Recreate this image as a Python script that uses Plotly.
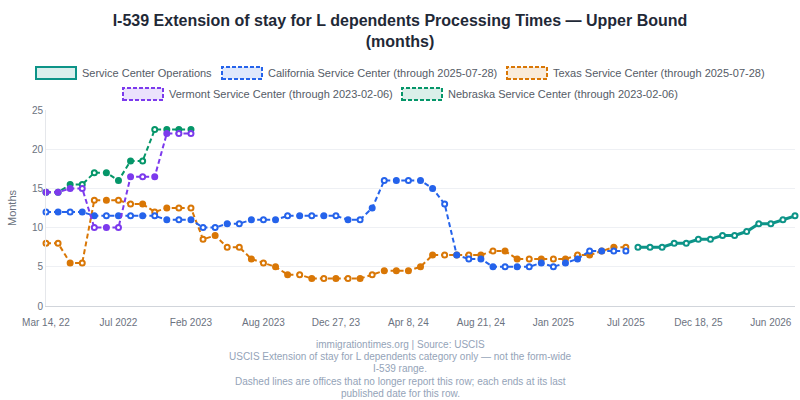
import plotly.graph_objects as go

# report dates (category axis, evenly spaced)
dates = [
    "2022-03-14", "2022-03-29", "2022-04-12", "2022-04-28", "2022-05-16", "2022-06-09",
    "2022-07-11", "2022-08-10", "2022-09-13", "2022-10-12", "2022-11-15", "2022-12-13",
    "2023-02-06", "2023-03-01", "2023-03-29", "2023-04-26", "2023-05-24", "2023-06-28",
    "2023-08-02", "2023-08-30", "2023-09-20", "2023-10-11", "2023-11-01", "2023-11-29",
    "2023-12-27", "2024-01-17", "2024-02-07", "2024-02-28", "2024-03-13", "2024-03-27",
    "2024-04-08", "2024-05-01", "2024-05-29", "2024-06-19", "2024-07-10", "2024-07-31",
    "2024-08-21", "2024-09-18", "2024-10-16", "2024-11-13", "2024-12-04", "2024-12-26",
    "2025-01-22", "2025-02-19", "2025-03-19", "2025-04-16", "2025-05-21", "2025-06-25",
    "2025-07-28", "2025-08-20", "2025-09-10", "2025-10-01", "2025-10-22", "2025-11-19",
    "2025-12-18", "2026-01-14", "2026-02-11", "2026-03-11", "2026-04-08", "2026-05-06",
    "2026-06-03", "2026-07-01", "2026-07-29",
]
tick_labels = ["Mar 14, 22", "Jul 2022", "Feb 2023", "Aug 2023", "Dec 27, 23", "Apr 8, 24",
               "Aug 21, 24", "Jan 2025", "Jul 2025", "Dec 18, 25", "Jun 2026"]

# upper bound, months
california = [12, 12, 12, 12, 11.5, 11.5, 11.5, 11.5, 11.5, 11.5, 11, 11, 11,
              10, 10, 10.5, 10.5, 11, 11, 11, 11.5, 11.5, 11.5, 11.5, 11.5, 11, 11,
              12.5, 16, 16, 16, 16, 15, 13, 6.5, 6, 6, 5, 5, 5, 5, 5.5, 5, 5.5, 6,
              7, 7, 7, 7]
texas = [8, 8, 5.5, 5.5, 13.5, 13.5, 13.5, 13, 13, 12, 12.5, 12.5, 12.5,
         8.5, 9, 7.5, 7.5, 6, 5.5, 5, 4, 4, 3.5, 3.5, 3.5, 3.5, 3.5,
         4, 4.5, 4.5, 4.5, 5, 6.5, 6.5, 6.5, 6.5, 6.5, 7, 7, 6, 6, 6, 6, 6,
         6.5, 6.5, 7, 7.5, 7.5]
vermont = [14.5, 14.5, 15, 15, 10, 10, 10, 16.5, 16.5, 16.5, 22, 22, 22]
nebraska = [14.5, 14.5, 15.5, 15.5, 17, 17, 16, 18.5, 18.5, 22.5, 22.5, 22.5, 22.5]
operations = [7.5, 7.5, 7.5, 8, 8, 8.5, 8.5, 9, 9, 9.5, 10.5, 10.5, 11, 11.5]

# 1 = drawn as an open marker in the source chart
california_open = [1, 0, 1, 0, 0, 1, 0, 1, 0, 1, 0, 1, 0, 1, 1, 0, 1, 0, 1, 0, 1, 0, 1, 0, 1,
                   0, 1, 0, 1, 0, 1, 0, 0, 1, 0, 1, 0, 0, 1, 0, 1, 0, 1, 0, 0, 1, 0, 1, 1]
texas_open = [1, 1, 0, 1, 1, 0, 1, 1, 0, 1, 0, 1, 1, 1, 0, 1, 1, 0, 1, 0, 0, 1, 0, 1, 0,
              1, 0, 1, 0, 0, 0, 0, 0, 1, 0, 1, 0, 1, 0, 0, 1, 0, 1, 0, 1, 0, 0, 0, 1]
vermont_open = [0, 0, 0, 1, 1, 0, 1, 0, 1, 0, 0, 1, 1]
nebraska_open = [0, 0, 0, 1, 1, 0, 0, 0, 1, 1, 0, 0, 0]
operations_open = [1] * len(operations)

FONT = "Liberation Sans, Arial, sans-serif"
DASH = "5px,3px"

# plot box in pixels, used to place the hand-made legend and footer
PL, PR, PT, PB = 46, 795, 110, 306


def px_x(px):
    return (px - PL) / (PR - PL)


def px_y(py):
    return (PB - py) / (PB - PT)


series = [
    # drawing order (bottom first); name, x, y, open flags, colour, dashed
    ("Texas Service Center (through 2025-07-28)", dates[:49], texas, texas_open, "#d97706", True),
    ("California Service Center (through 2025-07-28)", dates[:49], california, california_open, "#2563eb", True),
    ("Nebraska Service Center (through 2023-02-06)", dates[:13], nebraska, nebraska_open, "#059669", True),
    ("Vermont Service Center (through 2023-02-06)", dates[:13], vermont, vermont_open, "#7c3aed", True),
    ("Service Center Operations", dates[49:], operations, operations_open, "#0d9488", False),
]

fig = go.Figure()

for name, xs, ys, opens, color, dashed in series:
    fig.add_trace(go.Scatter(
        x=xs, y=ys, mode="lines+markers", name=name,
        showlegend=False, cliponaxis=False,
        line=dict(color=color, width=2 if dashed else 3, dash=DASH if dashed else "solid"),
        marker=dict(size=5, color=["white" if o else color for o in opens],
                    line=dict(color=color, width=2)),
    ))

# legend drawn by hand: dashed/solid box with a light fill, then the label
legend_items = [
    # series index, box left px, row centre px
    (4, 36, 73), (1, 222, 73), (0, 507, 73),
    (3, 123, 94), (2, 402, 94),
]
for idx, left, cy in legend_items:
    name, _, _, _, color, dashed = series[idx]
    r, g, b = (int(color[i:i + 2], 16) for i in (1, 3, 5))
    fig.add_shape(
        type="rect", xref="paper", yref="paper",
        x0=px_x(left), x1=px_x(left + 40), y0=px_y(cy + 6), y1=px_y(cy - 6),
        line=dict(color=color, width=2, dash="4px,2px" if dashed else "solid"),
        fillcolor=f"rgba({r},{g},{b},0.15)", layer="above",
    )
    fig.add_annotation(
        text=name, xref="paper", yref="paper", x=px_x(left + 44), y=px_y(cy),
        xanchor="left", yanchor="middle", showarrow=False,
        font=dict(family=FONT, size=11, color="#555b66"),
    )

footer = [
    "immigrationtimes.org | Source: USCIS",
    "USCIS Extension of stay for L dependents category only \u2014 not the form-wide",
    "I-539 range.",
    "Dashed lines are offices that no longer report this row; each ends at its last",
    "published date for this row.",
]
for i, line in enumerate(footer):
    fig.add_annotation(
        text=line, xref="paper", yref="paper", x=px_x(400), y=-0.16 - i * 0.0615,
        xanchor="center", yanchor="top", showarrow=False,
        font=dict(family=FONT, size=10, color="#94a3b8"),
    )

fig.update_layout(
    width=800, height=400,
    margin=dict(l=PL, r=800 - PR, t=PT, b=400 - PB),
    paper_bgcolor="white", plot_bgcolor="white",
    font=dict(family=FONT, size=10, color="#6b7280"),
    title=dict(
        text="I-539 Extension of stay for L dependents Processing Times \u2014 Upper Bound<br>(months)",
        x=0.5, xanchor="center", y=0.935, yanchor="top",
        font=dict(family=FONT, size=16, color="#1f2937", weight="bold"),
    ),
    showlegend=False,
)

fig.update_xaxes(
    type="category", range=[0, len(dates) - 1],
    tickvals=dates[::6], ticktext=tick_labels,
    showgrid=False, showline=True, linecolor="#d1d5db",
    ticks="outside", ticklen=7, tickcolor="rgba(0,0,0,0)",
    tickfont=dict(size=10, color="#6b7280"),
)
fig.update_yaxes(
    range=[0, 25], dtick=5,
    title=dict(text="Months", font=dict(size=11, color="#6b7280"), standoff=13),
    gridcolor="#eef0f4", showline=True, linecolor="#e5e7eb", zeroline=False,
    tickfont=dict(size=10, color="#6b7280"),
)

fig.write_html("out.html", config={"displayModeBar": False},
               post_script="document.body.style.margin = '0';")
